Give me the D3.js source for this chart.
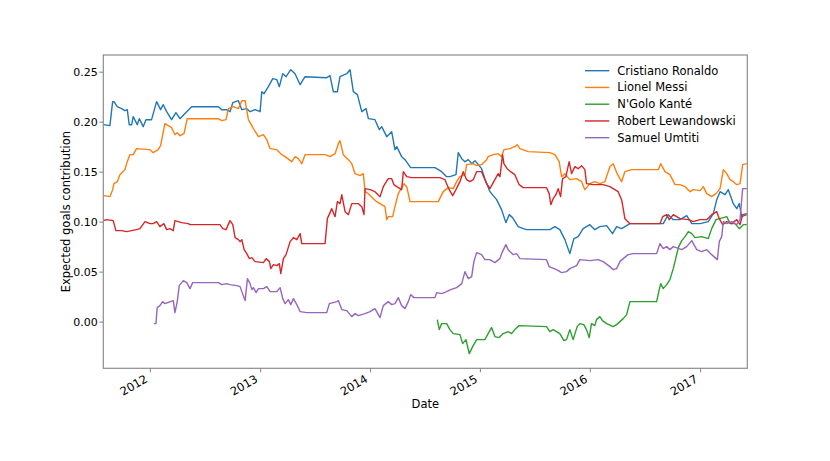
<!DOCTYPE html>
<html>
<head>
<meta charset="utf-8">
<script src="https://cdn.jsdelivr.net/npm/d3@7"></script>
<style>
  body { margin: 0; background: #fff; }
  svg { display: block; font-family: "DejaVu Sans", sans-serif; }
</style>
</head>
<body>
<script>
// expected goals contribution, [decimal year, value]
var ronaldo = [
  [2011.576,0.197],[2011.636,0.196],[2011.661,0.220],[2011.673,0.220],[2011.703,0.215],[2011.743,0.213],
  [2011.773,0.211],[2011.794,0.212],[2011.812,0.197],[2011.834,0.197],[2011.848,0.205],[2011.885,0.197],
  [2011.903,0.203],[2011.939,0.195],[2011.964,0.202],[2012.015,0.202],[2012.061,0.220],[2012.097,0.212],
  [2012.121,0.217],[2012.152,0.210],[2012.197,0.202],[2012.236,0.209],[2012.273,0.203],[2012.334,0.210],
  [2012.379,0.215],[2012.621,0.215],[2012.652,0.212],[2012.697,0.212],[2012.727,0.210],[2012.752,0.219],
  [2012.803,0.221],[2012.834,0.212],[2012.879,0.213],[2012.909,0.210],[2012.955,0.212],[2013.000,0.210],
  [2013.015,0.230],[2013.036,0.228],[2013.075,0.235],[2013.115,0.243],[2013.152,0.242],[2013.175,0.235],
  [2013.206,0.248],[2013.236,0.245],[2013.279,0.252],[2013.318,0.248],[2013.364,0.237],[2013.409,0.245],
  [2013.606,0.244],[2013.636,0.246],[2013.666,0.230],[2013.703,0.230],[2013.727,0.245],[2013.788,0.248],
  [2013.818,0.252],[2013.848,0.230],[2013.885,0.227],[2013.925,0.210],[2013.964,0.213],[2013.985,0.203],
  [2014.045,0.202],[2014.085,0.192],[2014.106,0.195],[2014.152,0.185],[2014.197,0.190],[2014.227,0.172],
  [2014.243,0.175],[2014.288,0.165],[2014.318,0.162],[2014.370,0.154],[2014.591,0.154],[2014.652,0.150],
  [2014.697,0.145],[2014.727,0.145],[2014.782,0.147],[2014.803,0.169],[2014.834,0.163],[2014.864,0.160],
  [2014.894,0.162],[2014.925,0.158],[2014.955,0.161],[2015.015,0.153],[2015.045,0.143],[2015.091,0.130],
  [2015.152,0.122],[2015.197,0.112],[2015.236,0.099],[2015.266,0.107],[2015.297,0.104],[2015.348,0.095],
  [2015.394,0.093],[2015.425,0.092],[2015.636,0.092],[2015.682,0.095],[2015.727,0.092],[2015.773,0.082],
  [2015.818,0.068],[2015.855,0.083],[2015.894,0.085],[2015.939,0.093],[2016.000,0.097],[2016.045,0.092],
  [2016.091,0.095],[2016.152,0.096],[2016.206,0.088],[2016.243,0.095],[2016.288,0.093],[2016.364,0.098],
  [2016.636,0.098],[2016.666,0.098],[2016.712,0.107],[2016.757,0.102],[2016.818,0.102],[2016.879,0.106],
  [2016.925,0.098],[2017.000,0.098],[2017.075,0.100],[2017.121,0.108],[2017.152,0.122],[2017.182,0.130],
  [2017.227,0.127],[2017.257,0.132],[2017.303,0.118],[2017.334,0.113],[2017.357,0.118],[2017.379,0.105],
  [2017.425,0.107]
];

var messi = [
  [2011.576,0.126],[2011.636,0.125],[2011.661,0.132],[2011.673,0.138],[2011.703,0.140],[2011.727,0.147],
  [2011.773,0.152],[2011.794,0.160],[2011.818,0.167],[2011.848,0.167],[2011.879,0.173],[2012.000,0.172],
  [2012.030,0.169],[2012.075,0.172],[2012.097,0.176],[2012.136,0.198],[2012.166,0.196],[2012.197,0.194],
  [2012.227,0.187],[2012.248,0.189],[2012.273,0.186],[2012.309,0.188],[2012.339,0.203],[2012.621,0.203],
  [2012.652,0.201],[2012.691,0.202],[2012.712,0.213],[2012.757,0.215],[2012.803,0.213],[2012.834,0.221],
  [2012.864,0.221],[2012.894,0.202],[2012.939,0.193],[2012.985,0.185],[2013.030,0.187],[2013.061,0.182],
  [2013.091,0.173],[2013.152,0.172],[2013.197,0.167],[2013.227,0.165],[2013.288,0.160],[2013.318,0.165],
  [2013.348,0.163],[2013.379,0.158],[2013.409,0.167],[2013.591,0.167],[2013.636,0.165],[2013.682,0.168],
  [2013.712,0.178],[2013.727,0.181],[2013.757,0.167],[2013.803,0.162],[2013.834,0.158],[2013.864,0.148],
  [2013.909,0.146],[2013.939,0.148],[2013.955,0.130],[2013.985,0.128],[2014.030,0.123],[2014.061,0.120],
  [2014.106,0.117],[2014.136,0.115],[2014.152,0.102],[2014.166,0.105],[2014.206,0.105],[2014.227,0.115],
  [2014.257,0.128],[2014.309,0.138],[2014.334,0.135],[2014.364,0.120],[2014.621,0.120],[2014.666,0.130],
  [2014.712,0.134],[2014.757,0.133],[2014.788,0.140],[2014.818,0.145],[2014.864,0.147],[2014.879,0.157],
  [2014.939,0.158],[2014.970,0.156],[2015.015,0.157],[2015.061,0.162],[2015.075,0.165],[2015.121,0.167],
  [2015.166,0.168],[2015.197,0.165],[2015.218,0.172],[2015.273,0.173],[2015.318,0.175],[2015.339,0.177],
  [2015.364,0.173],[2015.439,0.170],[2015.636,0.169],[2015.682,0.167],[2015.721,0.160],[2015.743,0.145],
  [2015.773,0.148],[2015.818,0.142],[2015.879,0.143],[2015.925,0.140],[2015.955,0.132],[2016.000,0.138],
  [2016.045,0.140],[2016.091,0.138],[2016.136,0.140],[2016.182,0.155],[2016.212,0.158],[2016.248,0.148],
  [2016.288,0.140],[2016.318,0.150],[2016.379,0.152],[2016.621,0.152],[2016.643,0.158],[2016.682,0.150],
  [2016.727,0.147],[2016.773,0.137],[2016.818,0.137],[2016.864,0.135],[2016.909,0.130],[2016.939,0.132],
  [2017.000,0.131],[2017.030,0.135],[2017.061,0.128],[2017.106,0.125],[2017.145,0.128],[2017.182,0.133],
  [2017.212,0.152],[2017.243,0.148],[2017.273,0.142],[2017.303,0.140],[2017.334,0.137],[2017.364,0.138],
  [2017.388,0.157],[2017.425,0.158]
];

var kante = [
  [2014.612,0.002],[2014.630,-0.008],[2014.652,-0.002],[2014.697,-0.002],[2014.727,-0.008],[2014.757,-0.012],
  [2014.818,-0.013],[2014.843,-0.022],[2014.873,-0.018],[2014.903,-0.032],[2014.934,-0.025],[2014.970,-0.018],
  [2015.045,-0.018],[2015.075,-0.012],[2015.106,-0.006],[2015.136,-0.015],[2015.175,-0.016],[2015.212,-0.012],
  [2015.257,-0.010],[2015.288,-0.012],[2015.318,-0.008],[2015.357,-0.004],[2015.606,-0.005],[2015.636,-0.010],
  [2015.666,-0.008],[2015.727,-0.012],[2015.764,-0.019],[2015.788,-0.018],[2015.818,-0.008],[2015.848,-0.018],
  [2015.885,-0.005],[2015.909,-0.002],[2015.945,-0.003],[2015.970,-0.008],[2015.994,-0.016],[2016.015,-0.002],
  [2016.045,-0.004],[2016.061,0.002],[2016.091,0.005],[2016.115,0.001],[2016.152,-0.002],[2016.212,-0.005],
  [2016.243,-0.003],[2016.273,0.000],[2016.303,0.003],[2016.334,0.007],[2016.364,0.020],[2016.606,0.020],
  [2016.630,0.032],[2016.643,0.038],[2016.666,0.033],[2016.697,0.037],[2016.727,0.042],[2016.757,0.053],
  [2016.788,0.067],[2016.803,0.074],[2016.834,0.081],[2016.864,0.085],[2016.894,0.090],[2016.925,0.088],
  [2016.955,0.084],[2017.015,0.085],[2017.075,0.083],[2017.106,0.093],[2017.145,0.102],[2017.212,0.104],
  [2017.243,0.105],[2017.273,0.098],[2017.318,0.098],[2017.357,0.093],[2017.394,0.097],[2017.425,0.097]
];

var lewandowski = [
  [2011.576,0.101],[2011.606,0.102],[2011.666,0.101],[2011.691,0.091],[2011.743,0.091],[2011.788,0.090],
  [2011.879,0.092],[2011.909,0.093],[2011.955,0.100],[2012.000,0.098],[2012.030,0.098],[2012.061,0.100],
  [2012.091,0.095],[2012.127,0.098],[2012.152,0.092],[2012.182,0.093],[2012.212,0.091],[2012.227,0.101],
  [2012.288,0.099],[2012.348,0.098],[2012.364,0.097],[2012.636,0.097],[2012.661,0.093],[2012.691,0.092],
  [2012.727,0.101],[2012.752,0.097],[2012.773,0.084],[2012.803,0.082],[2012.818,0.080],[2012.834,0.082],
  [2012.855,0.072],[2012.879,0.068],[2012.903,0.063],[2012.925,0.064],[2012.955,0.060],[2013.030,0.059],
  [2013.055,0.063],[2013.085,0.060],[2013.097,0.053],[2013.121,0.057],[2013.152,0.056],[2013.175,0.058],
  [2013.188,0.048],[2013.212,0.063],[2013.236,0.067],[2013.273,0.080],[2013.303,0.084],[2013.334,0.082],
  [2013.364,0.088],[2013.379,0.078],[2013.591,0.078],[2013.612,0.103],[2013.652,0.113],[2013.682,0.105],
  [2013.703,0.120],[2013.727,0.118],[2013.743,0.127],[2013.773,0.110],[2013.803,0.107],[2013.834,0.118],
  [2013.894,0.118],[2013.925,0.115],[2013.945,0.107],[2013.955,0.133],[2014.000,0.132],[2014.045,0.130],
  [2014.091,0.125],[2014.121,0.135],[2014.166,0.143],[2014.197,0.143],[2014.218,0.137],[2014.243,0.135],
  [2014.288,0.132],[2014.303,0.150],[2014.334,0.145],[2014.379,0.144],[2014.636,0.144],[2014.682,0.142],
  [2014.697,0.138],[2014.721,0.132],[2014.752,0.126],[2014.782,0.132],[2014.818,0.140],[2014.848,0.150],
  [2014.879,0.142],[2014.909,0.140],[2014.939,0.142],[2014.970,0.150],[2015.015,0.150],[2015.061,0.138],
  [2015.091,0.133],[2015.136,0.142],[2015.166,0.148],[2015.182,0.145],[2015.206,0.167],[2015.218,0.158],
  [2015.248,0.153],[2015.279,0.150],[2015.318,0.147],[2015.357,0.137],[2015.394,0.134],[2015.606,0.134],
  [2015.630,0.128],[2015.645,0.117],[2015.666,0.123],[2015.691,0.127],[2015.712,0.133],[2015.734,0.125],
  [2015.752,0.143],[2015.782,0.145],[2015.812,0.160],[2015.834,0.148],[2015.864,0.155],[2015.894,0.153],
  [2015.925,0.156],[2015.955,0.152],[2015.970,0.138],[2016.030,0.137],[2016.121,0.137],[2016.182,0.135],
  [2016.212,0.133],[2016.257,0.130],[2016.288,0.122],[2016.303,0.113],[2016.318,0.103],[2016.364,0.098],
  [2016.636,0.098],[2016.661,0.105],[2016.697,0.107],[2016.721,0.102],[2016.757,0.107],[2016.788,0.105],
  [2016.818,0.103],[2016.894,0.102],[2016.939,0.100],[2017.000,0.102],[2017.061,0.102],[2017.106,0.107],
  [2017.152,0.110],[2017.175,0.103],[2017.206,0.097],[2017.243,0.100],[2017.288,0.098],[2017.334,0.102],
  [2017.364,0.097],[2017.388,0.107],[2017.425,0.108]
];

var umtiti = [
  [2012.036,-0.002],[2012.055,-0.002],[2012.066,0.014],[2012.091,0.016],[2012.115,0.020],[2012.136,0.018],
  [2012.212,0.021],[2012.227,0.009],[2012.248,0.020],[2012.266,0.036],[2012.303,0.041],[2012.334,0.039],
  [2012.364,0.033],[2012.388,0.039],[2012.621,0.039],[2012.652,0.037],[2012.697,0.038],[2012.727,0.037],
  [2012.788,0.036],[2012.818,0.035],[2012.834,0.030],[2012.864,0.021],[2012.885,0.043],[2012.909,0.038],
  [2012.925,0.032],[2012.939,0.034],[2012.964,0.029],[2012.985,0.033],[2013.030,0.033],[2013.061,0.035],
  [2013.091,0.030],[2013.152,0.030],[2013.182,0.034],[2013.206,0.023],[2013.227,0.018],[2013.257,0.022],
  [2013.279,0.017],[2013.303,0.023],[2013.334,0.017],[2013.364,0.010],[2013.425,0.009],[2013.606,0.009],
  [2013.630,0.018],[2013.697,0.020],[2013.712,0.021],[2013.743,0.012],[2013.788,0.011],[2013.834,0.005],
  [2013.864,0.008],[2013.894,0.006],[2013.955,0.008],[2014.000,0.010],[2014.045,0.013],[2014.091,0.004],
  [2014.121,0.016],[2014.166,0.020],[2014.197,0.017],[2014.227,0.018],[2014.257,0.024],[2014.288,0.016],
  [2014.318,0.013],[2014.348,0.020],[2014.370,0.027],[2014.400,0.024],[2014.591,0.024],[2014.606,0.029],
  [2014.652,0.028],[2014.697,0.030],[2014.734,0.032],[2014.788,0.034],[2014.834,0.038],[2014.864,0.050],
  [2014.894,0.043],[2014.925,0.045],[2014.945,0.060],[2014.970,0.069],[2015.015,0.067],[2015.045,0.062],
  [2015.091,0.062],[2015.136,0.059],[2015.182,0.063],[2015.197,0.068],[2015.236,0.077],[2015.257,0.072],
  [2015.303,0.067],[2015.334,0.068],[2015.364,0.063],[2015.606,0.062],[2015.630,0.055],[2015.697,0.052],
  [2015.743,0.049],[2015.788,0.050],[2015.818,0.053],[2015.879,0.056],[2015.909,0.062],[2016.000,0.061],
  [2016.076,0.062],[2016.121,0.060],[2016.182,0.055],[2016.212,0.052],[2016.243,0.053],[2016.273,0.060],
  [2016.303,0.063],[2016.348,0.067],[2016.394,0.068],[2016.606,0.068],[2016.636,0.078],[2016.666,0.073],
  [2016.697,0.075],[2016.727,0.072],[2016.757,0.075],[2016.834,0.072],[2016.879,0.075],[2016.925,0.081],
  [2016.970,0.072],[2017.015,0.070],[2017.061,0.072],[2017.106,0.067],[2017.157,0.062],[2017.175,0.080],
  [2017.197,0.085],[2017.212,0.100],[2017.243,0.098],[2017.288,0.100],[2017.334,0.097],[2017.364,0.102],
  [2017.379,0.122],[2017.388,0.133],[2017.425,0.133]
];

var players = ["Cristiano Ronaldo", "Lionel Messi", "N'Golo Kanté", "Robert Lewandowski", "Samuel Umtiti"];
var seriesData = [ronaldo, messi, kante, lewandowski, umtiti];
var colors = ["#1f77b4", "#ff7f0e", "#2ca02c", "#d62728", "#9467bd"];

var yTicks = [0.00, 0.05, 0.10, 0.15, 0.20, 0.25];
var xTickYears = [2012, 2013, 2014, 2015, 2016, 2017];
var xDomainYears = [2011.576, 2017.430];
var yDomain = [-0.0467, 0.2667];

// decimal year -> Date
function fromYear(y) {
  var yr = Math.floor(y);
  var start = new Date(yr, 0, 1), end = new Date(yr + 1, 0, 1);
  return new Date(start.getTime() + (y - yr) * (end - start));
}

var width = 830, height = 461;
var margin = {top: 55, right: 82.7, bottom: 92.7, left: 103.3};
var w = width - margin.left - margin.right;
var h = height - margin.top - margin.bottom;
var axisColor = "#8c8c8c";
var fontSize = "11.5px";

var svg = d3.select("body").append("svg")
  .attr("width", width)
  .attr("height", height);

var x = d3.scaleTime()
  .domain(xDomainYears.map(fromYear))
  .range([0, w]);

var y = d3.scaleLinear()
  .domain(yDomain)
  .range([h, 0]);

var g = svg.append("g")
  .attr("transform", "translate(" + margin.left + "," + margin.top + ")");

g.append("clipPath").attr("id", "plot-clip")
  .append("rect").attr("width", w).attr("height", h);

// y axis
var yAxis = g.append("g")
  .call(d3.axisLeft(y).tickValues(yTicks).tickFormat(d3.format(".2f")).tickSize(4).tickPadding(1.5));
yAxis.select(".domain").remove();
yAxis.selectAll("line").attr("stroke", axisColor).attr("stroke-width", 1.1);
yAxis.selectAll("text")
  .attr("font-size", "11px")
  .attr("font-family", "DejaVu Sans")
  .attr("fill", "#000");

// x axis
var xAxis = g.append("g")
  .attr("transform", "translate(0," + h + ")")
  .call(d3.axisBottom(x).tickValues(xTickYears.map(function(d) { return new Date(d, 0, 1); }))
    .tickFormat(d3.timeFormat("%Y")).tickSize(4));
xAxis.select(".domain").remove();
xAxis.selectAll("line").attr("stroke", axisColor).attr("stroke-width", 1.1);
xAxis.selectAll("text")
  .attr("font-size", fontSize)
  .attr("font-family", "DejaVu Sans")
  .attr("fill", "#000")
  .attr("text-anchor", "end")
  .attr("dy", null)
  .attr("y", null)
  .attr("transform", "translate(-2,13) rotate(-30)");

// lines
var line = d3.line()
  .x(function(d) { return x(fromYear(d[0])); })
  .y(function(d) { return y(d[1]); });

g.append("g").attr("clip-path", "url(#plot-clip)")
  .selectAll("path")
  .data(seriesData)
  .enter()
  .append("path")
  .attr("d", line)
  .attr("fill", "none")
  .attr("stroke", function(d, i) { return colors[i]; })
  .attr("stroke-width", 1.4)
  .attr("stroke-linejoin", "round");

// frame
g.append("rect")
  .attr("width", w)
  .attr("height", h)
  .attr("fill", "none")
  .attr("stroke", axisColor)
  .attr("stroke-width", 1.2);

// axis labels
g.append("text")
  .text("Date")
  .attr("x", w / 2)
  .attr("y", h + 40)
  .attr("text-anchor", "middle")
  .attr("font-size", fontSize);

g.append("text")
  .text("Expected goals contribution")
  .attr("transform", "translate(-33.5," + (h / 2) + ") rotate(-90)")
  .attr("text-anchor", "middle")
  .attr("font-size", fontSize);

// legend
var legend = g.append("g")
  .attr("transform", "translate(" + (585 - margin.left) + "," + (70.7 - margin.top) + ")");

var item = legend.selectAll("g")
  .data(players)
  .enter()
  .append("g")
  .attr("transform", function(d, i) { return "translate(0," + (i * 16.75) + ")"; });

item.append("line")
  .attr("x1", 0).attr("x2", 24.3)
  .attr("stroke", function(d, i) { return colors[i]; })
  .attr("stroke-width", 1.4);

item.append("text")
  .text(function(d) { return d; })
  .attr("x", 32.3)
  .attr("dy", "0.35em")
  .attr("font-size", fontSize);
</script>
</body>
</html>
